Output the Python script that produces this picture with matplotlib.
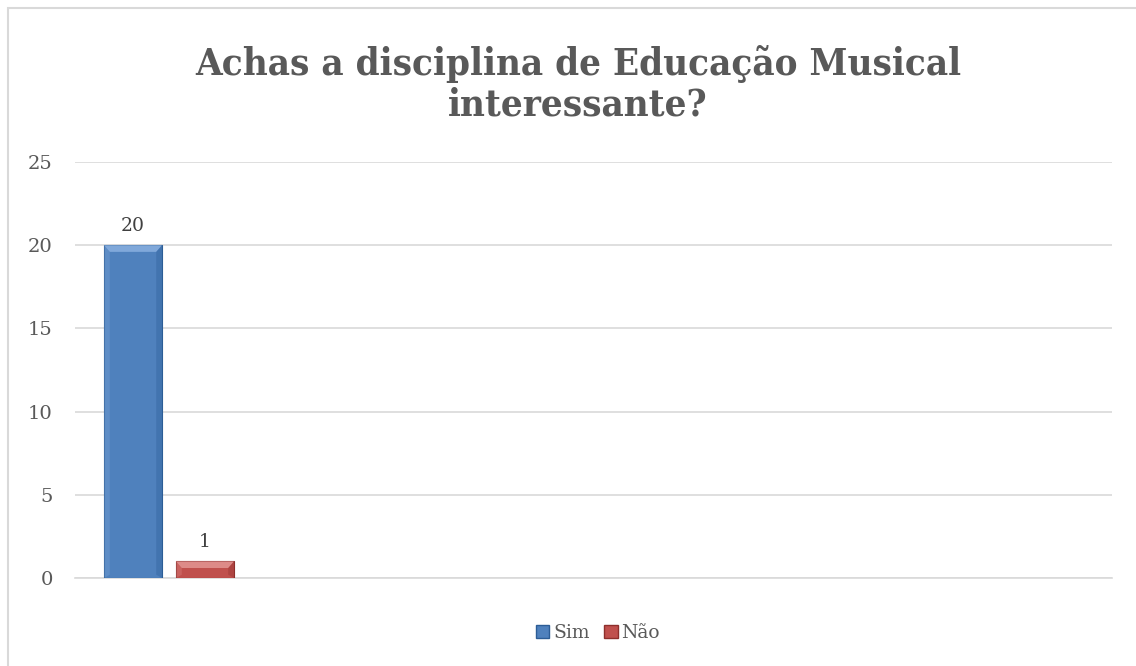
import matplotlib.pyplot as plt
from matplotlib.patches import Rectangle, Polygon

# data
series = ["Sim", "Não"]
values = [20, 1]
colors = ["#4F81BD", "#C0504D"]
dark = ["#2C5D96", "#8E2F2C"]
light = ["#8DB3E2", "#E59A98"]
yticks = [0, 5, 10, 15, 20, 25]
title = "Achas a disciplina de Educação Musical\ninteressante?"

W, H = 1136, 666
fig = plt.figure(figsize=(W / 100, H / 100), dpi=100)
fig.patch.set_facecolor("white")

# outer chart border (only left/top are inside the picture)
fig.patches.append(Rectangle((8 / W, -0.05), 1.2, 1 - 8 / H + 0.05,
                             transform=fig.transFigure, fill=False,
                             edgecolor="#D9D9D9", linewidth=1.5))

ax = fig.add_axes([75 / W, 1 - 578 / H, (1112 - 75) / W, (578 - 162) / H])

bw = 0.35
gap = bw * 14 / 58
xs = [0, bw + gap]
bars = ax.bar(xs, values, width=bw, color=colors, edgecolor=dark,
              linewidth=0.8, zorder=3)

# bevel on each bar: light top, darker right side
for b, lc, dc in zip(bars, light, dark):
    x0, y0 = b.get_x(), b.get_y()
    w, h = b.get_width(), b.get_height()
    inset = w * 0.1
    bev = 0.4
    ax.add_patch(Polygon([(x0, y0 + h), (x0 + w, y0 + h),
                          (x0 + w - inset, y0 + h - bev),
                          (x0 + inset, y0 + h - bev)],
                         closed=True, facecolor=lc, edgecolor="none",
                         alpha=0.8, zorder=4))
    ax.add_patch(Polygon([(x0 + w, y0 + h), (x0 + w, y0),
                          (x0 + w - inset, y0 + bev * 0.5),
                          (x0 + w - inset, y0 + h - bev)],
                         closed=True, facecolor=dc, edgecolor="none",
                         alpha=0.35, zorder=4))
    ax.add_patch(Polygon([(x0, y0 + h), (x0, y0),
                          (x0 + inset, y0 + bev * 0.5),
                          (x0 + inset, y0 + h - bev)],
                         closed=True, facecolor=lc, edgecolor="none",
                         alpha=0.25, zorder=4))

for x, v in zip(xs, values):
    ax.text(x, v + 0.6, str(v), ha="center", va="bottom",
            fontsize=13.5, family="DejaVu Serif", color="#404040")

ax.set_xlim(-bw, -bw + bw * 1037 / 58)
ax.set_ylim(0, 25)
ax.set_yticks(yticks)
ax.set_yticklabels([str(t) for t in yticks], family="DejaVu Serif",
                   fontsize=14, color="#595959")
ax.set_xticks([])
ax.tick_params(axis="y", length=0, pad=16)
ax.grid(axis="y", color="#D9D9D9", linewidth=1.2, zorder=0)
for s in ["top", "right", "left"]:
    ax.spines[s].set_visible(False)
ax.spines["bottom"].set_color("#D9D9D9")
ax.spines["bottom"].set_linewidth(1.2)

fig.text(578 / W, 1 - 84 / H, title, ha="center", va="center",
         fontsize=27.5, fontweight="bold", family="DejaVu Serif",
         fontstretch="condensed", color="#595959", linespacing=1.12)

handles = [Rectangle((0, 0), 1, 1, facecolor=c, edgecolor=d)
           for c, d in zip(colors, dark)]
fig.legend(handles, series, loc="center", bbox_to_anchor=(598 / W, 1 - 633 / H),
           ncol=2, frameon=False, handlelength=0.7, handleheight=0.7,
           handletextpad=0.2, columnspacing=0.8,
           prop={"family": "DejaVu Serif", "size": 13.5},
           labelcolor="#595959")

fig.savefig("out.png", dpi=100)
